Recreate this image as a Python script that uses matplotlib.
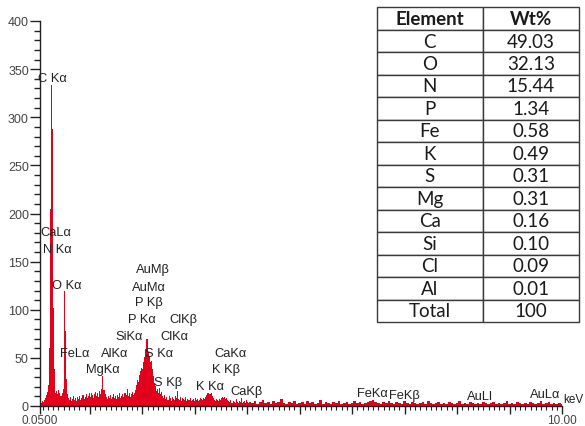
import numpy as np
import matplotlib
matplotlib.use("Agg")
import matplotlib.pyplot as plt
from matplotlib.ticker import MultipleLocator, FixedLocator

plt.rcParams['font.family'] = ['Liberation Sans', 'DejaVu Sans']

# EDS spectrum, 0.02 keV channels from 0.05 keV up to ~4 keV
counts_low = [
    30, 3, 5, 4, 6, 8, 11, 15, 22, 60,
    205, 334, 288, 102, 38, 14, 16, 12, 17, 14,
    10, 13, 18, 119, 78, 28, 12, 8, 6, 9,
    5, 7, 10, 6, 8, 5, 9, 7, 10, 6,
    8, 11, 7, 9, 12, 8, 10, 13, 9, 14,
    11, 8, 12, 15, 10, 13, 9, 16, 12, 18,
    31, 17, 12, 9, 7, 10, 8, 11, 7, 9,
    12, 8, 10, 7, 11, 9, 13, 8, 10, 12,
    9, 14, 11, 18, 10, 13, 9, 12, 15, 11,
    14, 17, 22, 27, 25, 32, 36, 40, 38, 46,
    51, 59, 70, 56, 52, 46, 47, 38, 31, 24,
    21, 16, 18, 14, 19, 12, 15, 10, 8, 11,
    7, 9, 6, 10, 8, 5, 9, 7, 6, 10,
    8, 16, 7, 6, 9, 5, 8, 7, 6, 9,
    5, 7, 6, 8, 5, 6, 7, 5, 8, 6,
    7, 5, 6, 8, 7, 6, 8, 7, 9, 11,
    13, 14, 12, 13, 10, 8, 6, 5, 7, 6,
    5, 7, 6, 8, 9, 8, 9, 7, 8, 6,
    5, 4, 6, 3, 5, 4, 3, 7, 4, 3,
    5, 4, 8, 3, 4, 5, 3, 6, 4, 3,
]
# 0.05 keV channels from 4.05 keV to 10 keV
counts_high = [
    4, 3, 5, 2, 4, 6, 3, 4, 2, 5,
    3, 4, 7, 3, 2, 4, 3, 5, 2, 3,
    4, 2, 5, 3, 4, 2, 3, 6, 2, 4,
    3, 2, 4, 3, 5, 2, 3, 4, 2, 3,
    5, 3, 4, 2, 3, 4, 5, 6, 4, 3,
    2, 4, 3, 5, 3, 2, 4, 3, 2, 5,
    3, 2, 4, 3, 2, 3, 4, 2, 5, 3,
    2, 3, 4, 2, 3, 2, 4, 3, 2, 3,
    5, 2, 3, 2, 4, 3, 2, 3, 2, 4,
    3, 2, 3, 4, 2, 3, 2, 3, 5, 2,
    3, 2, 4, 3, 2, 3, 2, 4, 3, 2,
    3, 5, 2, 3, 4, 2, 3, 2, 3, 2,
]
step_low = 0.02
step_high = 0.05
energy_low = 0.05 + step_low * np.arange(len(counts_low))
energy_high = 4.05 + step_high * np.arange(len(counts_high))

# peak labels: (text, energy keV, counts) for the left edge of the text
peak_labels = [
    ("C K\u03b1", 0.012, 341), ("CaL\u03b1", 0.05, 181), ("N K\u03b1", 0.107, 163),
    ("O K\u03b1", 0.278, 126), ("FeL\u03b1", 0.43, 55), ("AlK\u03b1", 1.21, 55),
    ("MgK\u03b1", 0.925, 38), ("SiK\u03b1", 1.48, 73), ("AuM\u03b2", 1.88, 142),
    ("AuM\u03b1", 1.81, 124), ("P K\u03b2", 1.86, 108), ("P K\u03b1", 1.72, 90),
    ("ClK\u03b2", 2.51, 90), ("ClK\u03b1", 2.34, 73), ("S K\u03b1", 2.05, 55),
    ("S K\u03b2", 2.22, 25), ("K K\u03b1", 3.03, 21), ("K K\u03b2", 3.33, 38),
    ("CaK\u03b1", 3.37, 55), ("CaK\u03b2", 3.67, 16), ("FeK\u03b1", 6.09, 14),
    ("FeK\u03b2", 6.70, 11), ("AuLl", 8.19, 10), ("AuL\u03b1", 9.39, 12),
]

elements = ["C", "O", "N", "P", "Fe", "K", "S", "Mg", "Ca", "Si", "Cl", "Al", "Total"]
wt_pct = ["49.03", "32.13", "15.44", "1.34", "0.58", "0.49", "0.31",
          "0.31", "0.16", "0.10", "0.09", "0.01", "100"]

W, H = 585, 427
fig = plt.figure(figsize=(W / 100, H / 100), dpi=100)
ax = fig.add_axes([40 / W, 1 - 407 / H, 522 / W, 385 / H])

red = '#e3001b'
ax.bar(energy_low, counts_low, width=step_low, color=red, linewidth=0, align='center')
ax.bar(energy_high, counts_high, width=step_high, color=red, linewidth=0, align='center')

ax.set_xlim(0.05, 10.0)
ax.set_ylim(0, 400)
for s in ['top', 'right']:
    ax.spines[s].set_visible(False)
for s in ['left', 'bottom']:
    ax.spines[s].set_color('#222222')
    ax.spines[s].set_linewidth(1.0)

ax.yaxis.set_major_locator(MultipleLocator(50))
ax.yaxis.set_minor_locator(MultipleLocator(10))
ax.tick_params(axis='y', which='major', length=7, width=1, color='#222222',
               labelsize=9, labelcolor='#444444', pad=1)
ax.tick_params(axis='y', which='minor', length=4, width=1, color='#222222')

ax.xaxis.set_major_locator(FixedLocator([0.05] + list(range(1, 11))))
ax.xaxis.set_minor_locator(MultipleLocator(0.1))
ax.set_xticklabels(["0.0500"] + [""] * 9 + ["10.00"])
ax.tick_params(axis='x', which='major', length=6, width=1, color='#222222',
               labelsize=8.5, labelcolor='#444444', pad=0)
ax.tick_params(axis='x', which='minor', length=3, width=0.8, color='#222222')

for txt, e, c in peak_labels:
    ax.text(e, c, txt, fontsize=9.3, color='#222222', ha='left', va='center')
ax.text(10.02, 7, "keV", fontsize=8.5, color='#222222', ha='left', va='center',
        clip_on=False)

# composition table
ax_t = fig.add_axes([376.7 / W, 1 - 323 / H, (579 - 376.7) / W, (323 - 8.3) / H])
ax_t.axis('off')
rows = [[el, wt] for el, wt in zip(elements, wt_pct)]
tab = ax_t.table(cellText=rows, colLabels=["Element", "Wt%"], bbox=[0, 0, 1, 1],
                 colWidths=[0.524, 0.476], cellLoc='center')
tab.auto_set_font_size(False)
for (r, c), cell in tab.get_celld().items():
    cell.set_edgecolor('#3a3a3a')
    cell.set_linewidth(1.0)
    cell.get_text().set_fontsize(13.5)
    cell.get_text().set_family(['Lato', 'DejaVu Sans'])
    cell.get_text().set_color('#1a1a1a')
    if r == 0:
        cell.get_text().set_fontweight('bold')

fig.savefig("out.png", dpi=100)
